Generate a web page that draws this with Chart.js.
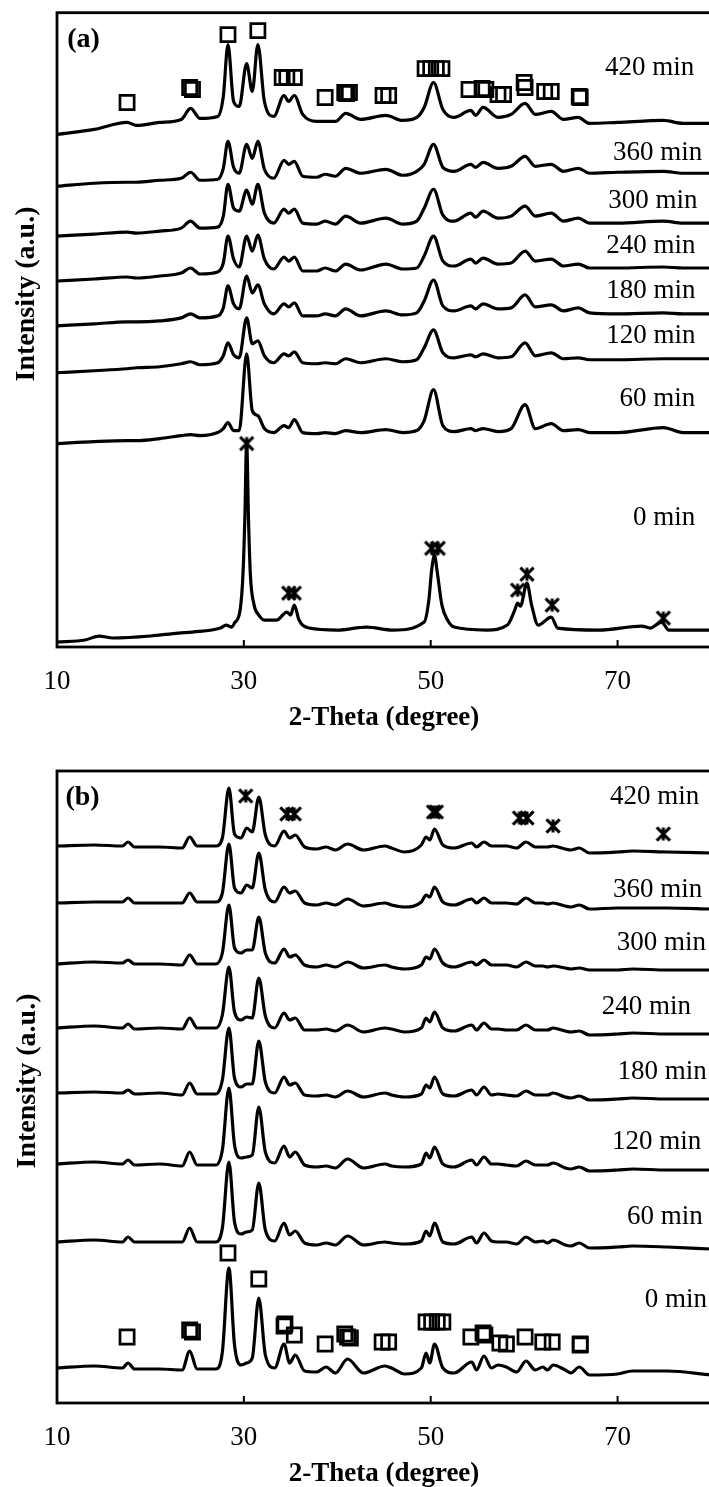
<!DOCTYPE html>
<html>
<head>
<meta charset="utf-8">
<script src="https://cdn.jsdelivr.net/npm/chart.js@4.4.1/dist/chart.umd.min.js"></script>
<style>
  html, body { margin: 0; padding: 0; background: #fff; overflow: hidden; }
  body { width: 709px; height: 1487px; position: relative; }
  canvas { position: absolute; left: 0; }
  #chartA { top: 0; }
  #chartB { top: 756px; }
</style>
</head>
<body>
<canvas id="chartA" width="760" height="745"></canvas>
<canvas id="chartB" width="760" height="745"></canvas>
<script>
// --- shared ---
const xTicks = [10, 30, 50, 70];
const timeLabels = ['420 min', '360 min', '300 min', '240 min', '180 min', '120 min', '60 min', '0 min'];

// --- panel (a) ---
const thetaA = [10, 14, 17.5, 18.5, 21, 23.3, 24.3, 25.3, 27.2, 27.8, 28.3, 28.9, 29.5, 30.3, 30.9, 31.5, 32.2, 33.2, 34.3, 34.8, 35.4, 36.3, 37.8, 38.7, 39.8, 40.9, 42.5, 45.2, 47, 48.5, 49.3, 50.3, 51.3, 52.5, 54.3, 54.8, 55.6, 57.2, 58.6, 60.1, 61.2, 62.9, 64.2, 65.8, 67, 70, 74.9, 77, 80];
const a420 = [514, 519, 526, 523, 526, 529, 540, 530, 532, 552, 604, 547, 542, 585, 557, 604, 547, 532, 553, 547, 553, 534, 527, 527, 527, 535, 529, 533, 528, 531, 541, 566, 539, 531, 538, 533, 541, 531, 534, 545, 534, 537, 529, 531, 525, 526, 528, 525, 525];
const a360 = [462, 465, 466, 466, 468, 470, 476, 468, 469, 480, 507, 481, 475, 504, 490, 507, 479, 470, 488, 484, 487, 472, 471, 474, 472, 480, 475, 479, 473, 477, 484, 504, 481, 477, 484, 481, 486, 480, 482, 492, 482, 484, 477, 480, 475, 476, 477, 475, 475];
const a300 = [412, 414, 416, 415, 417, 420, 427, 420, 421, 432, 464, 440, 437, 458, 444, 464, 435, 425, 439, 435, 439, 425, 424, 427, 424, 432, 425, 430, 424, 427, 440, 459, 433, 427, 435, 431, 437, 430, 432, 442, 432, 435, 427, 430, 425, 425, 427, 425, 425];
const a240 = [367, 369, 371, 370, 372, 375, 380, 374, 376, 385, 412, 389, 381, 412, 397, 413, 389, 379, 391, 387, 391, 377, 377, 380, 377, 384, 378, 384, 379, 380, 392, 412, 387, 382, 389, 385, 390, 384, 385, 397, 387, 389, 382, 384, 380, 380, 381, 380, 380];
const a180 = [322, 324, 326, 326, 327, 330, 334, 330, 332, 340, 362, 344, 339, 372, 355, 363, 344, 334, 344, 341, 345, 332, 332, 334, 332, 339, 332, 337, 333, 335, 347, 368, 342, 337, 342, 339, 344, 339, 340, 353, 341, 343, 337, 340, 335, 334, 335, 334, 334];
const a120 = [275, 277, 279, 280, 281, 284, 286, 283, 285, 292, 305, 293, 290, 330, 304, 307, 292, 285, 294, 292, 296, 285, 284, 285, 284, 289, 285, 289, 286, 288, 300, 318, 295, 290, 293, 291, 294, 290, 291, 305, 292, 295, 289, 290, 288, 288, 289, 289, 289];
const a60 = [204, 206, 207, 207, 209, 212, 213, 212, 215, 219, 225, 217, 217, 294, 237, 232, 219, 215, 222, 220, 228, 215, 214, 215, 214, 217, 215, 218, 215, 217, 227, 258, 222, 216, 219, 217, 219, 216, 219, 243, 219, 224, 217, 218, 215, 215, 220, 215, 215];
const thetaA0 = [10, 13, 14.5, 16, 20, 23, 24.5, 27.5, 28.1, 28.7, 29.0, 29.6, 29.9, 30.1, 30.3, 30.5, 30.7, 31.1, 31.6, 32.2, 33.5, 34.6, 35.0, 35.4, 35.9, 37, 40, 43.1, 46, 49.3, 49.8, 50.1, 50.4, 50.7, 51.2, 51.8, 52.5, 56, 58.2, 59.0, 59.3, 59.6, 60.3, 60.8, 61.5, 62.9, 63.6, 68, 72.6, 73.5, 74.7, 75.5, 80];
const a0 = [5, 7, 11, 9, 11, 14, 15, 19, 22, 20, 24, 37, 72, 127, 205, 127, 72, 42, 32, 27, 27, 35, 32, 42, 27, 19, 17, 20, 17, 25, 47, 77, 92, 75, 42, 27, 20, 17, 22, 37, 44, 41, 64, 42, 22, 30, 19, 17, 21, 19, 25, 17, 17];
const aSquareX = [17.5, 24.2, 24.5, 28.3, 31.5, 34.1, 34.6, 35.4, 38.7, 40.8, 41.0, 41.3, 44.9, 45.5, 49.4, 50.0, 50.6, 51.2, 54.1, 55.5, 55.9, 57.2, 57.8, 60.0, 60.1, 62.2, 62.9, 65.9, 66.0];
const aSquareY = [546, 561, 559, 614, 618, 571, 571, 571, 551, 556, 555, 556, 553, 553, 580, 580, 580, 580, 559, 560, 559, 554, 554, 566, 561, 557, 557, 552, 551];
const aStarX = [30.3, 34.8, 35.4, 50.1, 50.8, 59.3, 60.3, 63.0, 74.9];
const aStarY = [204, 54, 54, 99, 99, 57, 73, 42, 29];
const aLabelX = [68.65, 69.5, 69.0, 68.8, 68.8, 68.8, 70.2, 71.65];
const aLabelY = [581, 495, 447, 402, 357, 312, 249, 129];

// --- panel (b) ---
const thetaB = [10, 14, 17.0, 17.6, 18.3, 21, 23.4, 24.2, 25.0, 27.0, 27.7, 28.4, 29.0, 29.7, 30.3, 30.9, 31.6, 32.3, 33.3, 34.3, 34.9, 35.5, 36.5, 37.8, 38.8, 39.8, 41.1, 42.8, 45.1, 45.8, 47.2, 49.0, 49.5, 49.9, 50.4, 51.3, 52.5, 54.4, 54.9, 55.7, 56.5, 57.2, 58.1, 59.2, 60.2, 61.2, 62.0, 62.5, 63.1, 64.4, 65.0, 65.9, 67, 70, 71.6, 75.3, 80];
const b420 = [557, 558, 557, 561, 556, 556, 555, 566, 557, 557, 565, 615, 569, 565, 575, 571, 606, 568, 557, 572, 565, 568, 556, 554, 556, 553, 559, 553, 557, 555, 551, 558, 566, 563, 574, 558, 555, 560, 556, 561, 557, 557, 557, 555, 561, 556, 556, 556, 557, 554, 553, 555, 550, 551, 552, 551, 550];
const b360 = [500, 501, 501, 505, 500, 500, 500, 510, 501, 501, 510, 559, 515, 510, 518, 515, 550, 513, 501, 516, 510, 512, 500, 498, 500, 498, 504, 497, 500, 498, 496, 501, 508, 506, 516, 501, 498, 504, 500, 505, 500, 500, 500, 499, 505, 500, 500, 499, 500, 497, 496, 498, 494, 495, 495, 495, 494];
const b300 = [439, 441, 440, 443, 439, 439, 438, 448, 439, 439, 450, 498, 455, 450, 453, 453, 486, 450, 440, 454, 446, 448, 438, 436, 438, 436, 441, 435, 438, 436, 434, 438, 446, 444, 454, 440, 436, 441, 438, 443, 438, 438, 438, 436, 441, 437, 437, 436, 437, 435, 434, 435, 433, 433, 434, 433, 433];
const b240 = [375, 377, 375, 379, 374, 375, 374, 385, 375, 375, 388, 436, 391, 383, 386, 385, 425, 387, 375, 390, 383, 385, 373, 373, 374, 372, 378, 371, 375, 374, 371, 375, 385, 381, 391, 375, 372, 378, 373, 380, 374, 374, 373, 373, 378, 373, 373, 373, 375, 372, 371, 372, 368, 369, 370, 369, 369];
const b180 = [310, 311, 310, 313, 309, 310, 308, 320, 309, 309, 323, 375, 325, 316, 319, 319, 362, 321, 310, 326, 318, 320, 308, 307, 308, 306, 312, 306, 310, 308, 306, 309, 318, 315, 326, 309, 307, 313, 308, 316, 308, 309, 308, 307, 312, 308, 308, 308, 310, 306, 305, 307, 303, 304, 305, 304, 304];
const b120 = [239, 241, 239, 243, 238, 239, 237, 251, 238, 238, 253, 315, 258, 245, 246, 248, 296, 251, 240, 257, 246, 251, 238, 236, 237, 235, 244, 235, 239, 237, 236, 239, 250, 245, 256, 239, 236, 243, 238, 246, 239, 239, 238, 237, 242, 238, 238, 238, 240, 235, 234, 236, 232, 233, 234, 233, 233];
const b60 = [161, 163, 161, 166, 161, 161, 161, 175, 161, 161, 175, 241, 181, 169, 171, 173, 220, 173, 162, 180, 168, 172, 160, 158, 160, 158, 167, 158, 161, 160, 159, 162, 172, 167, 180, 161, 159, 166, 160, 170, 162, 161, 161, 159, 166, 161, 162, 160, 163, 158, 157, 160, 155, 156, 157, 156, 154];
const b0 = [35, 37, 35, 40, 34, 34, 33, 52, 34, 34, 51, 135, 58, 38, 40, 45, 105, 48, 35, 59, 40, 48, 32, 31, 36, 30, 44, 30, 37, 35, 29, 35, 50, 40, 59, 35, 30, 41, 33, 47, 35, 38, 36, 31, 42, 33, 36, 33, 38, 33, 30, 36, 28, 29, 32, 32, 28];
const bSquareX = [17.5, 24.2, 24.5, 28.3, 31.6, 34.3, 34.4, 35.4, 38.7, 40.8, 41.1, 41.4, 44.8, 45.5, 49.5, 50.1, 50.7, 51.3, 54.3, 55.6, 55.8, 57.4, 58.1, 60.1, 62.0, 63.0, 66.0, 66.0];
const bSquareY = [66, 73, 71, 150, 124, 77, 79, 68, 59, 69, 66, 65, 61, 61, 81, 81, 81, 81, 66, 70, 68, 60, 59, 66, 61, 61, 59, 58];
const bStarX = [30.2, 34.6, 35.4, 50.3, 50.6, 59.5, 60.3, 63.1, 74.9];
const bStarY = [607, 589, 589, 591, 591, 585, 585, 577, 569];
const bLabelX = [69.2, 69.5, 69.9, 68.3, 70.0, 69.4, 71.0, 72.9];
const bLabelY = [606, 513, 460, 396, 331, 261, 186, 103];

const SERIF = '"Liberation Serif", "Times New Roman", serif';

// asterisk marker (X with a vertical bar), like the spreadsheet "star" marker
function makeStar(size, lw) {
    const c = document.createElement('canvas');
    c.width = c.height = size;
    const g = c.getContext('2d');
    g.strokeStyle = '#000';
    g.lineWidth = lw;
    const m = lw * 0.8, s = size - lw * 0.8;
    g.beginPath();
    g.moveTo(m, m); g.lineTo(s, s);
    g.moveTo(s, m); g.lineTo(m, s);
    g.moveTo(size / 2, m); g.lineTo(size / 2, s);
    g.stroke();
    return c;
}
const star = makeStar(18, 3);

function trace(theta, vals) {
    return {
        data: theta.map((t, i) => ({ x: t, y: vals[i] })),
        borderColor: '#000', borderWidth: 3.2,
        pointRadius: 0, fill: false,
        cubicInterpolationMode: 'monotone'
    };
}

function marks(xs, ys, style, r) {
    return {
        data: xs.map((v, i) => ({ x: v, y: ys[i] })),
        showLine: false, pointStyle: style, pointRadius: r,
        borderColor: '#000', borderWidth: 2.7,
        backgroundColor: 'rgba(0,0,0,0)'
    };
}

// frame, inward ticks, curve labels, panel tag and y title
const decor = {
    id: 'decor',
    afterDraw(chart, args, o) {
        const { ctx, chartArea: a, scales: { x, y } } = chart;
        ctx.save();
        ctx.strokeStyle = '#000';
        ctx.lineWidth = 2.8;
        ctx.strokeRect(a.left, a.top, a.right - a.left, a.bottom - a.top);
        ctx.lineWidth = 2;
        xTicks.forEach(v => {
            const px = x.getPixelForValue(v);
            ctx.beginPath();
            ctx.moveTo(px, a.bottom);
            ctx.lineTo(px, a.bottom - 7);
            ctx.stroke();
        });

        ctx.fillStyle = '#000';
        ctx.textBaseline = 'middle';
        ctx.textAlign = 'left';
        ctx.font = '27px ' + SERIF;
        o.labelX.forEach((lx, i) => {
            ctx.fillText(timeLabels[i], x.getPixelForValue(lx), y.getPixelForValue(o.labelY[i]));
        });
        ctx.font = 'bold 28px ' + SERIF;
        ctx.fillText(o.tag, x.getPixelForValue(o.tagX), y.getPixelForValue(o.tagY));

        ctx.translate(o.titleX, o.titleY);
        ctx.rotate(-Math.PI / 2);
        ctx.textAlign = 'center';
        ctx.fillText('Intensity (a.u.)', 0, 0);
        ctx.restore();
    }
};

function makePanel(canvasId, p) {
    const ctx = document.getElementById(canvasId).getContext('2d');
    return new Chart(ctx, {
        type: 'line',
        data: { datasets: p.datasets },
        plugins: [decor],
        options: {
            responsive: false,
            animation: false,
            layout: { padding: { left: 57, right: 49, top: p.top, bottom: 0 } },
            plugins: {
                legend: { display: false },
                tooltip: { enabled: false },
                decor: p.decor
            },
            scales: {
                x: {
                    type: 'linear', min: 10, max: 80,
                    afterBuildTicks: s => { s.ticks = xTicks.map(v => ({ value: v })); },
                    afterFit: s => { s.height = 98; },
                    grid: { display: false, drawTicks: false },
                    border: { display: false },
                    ticks: { color: '#000', font: { family: SERIF, size: 27 }, padding: 19, maxRotation: 0, autoSkip: false },
                    title: {
                        display: true, text: '2-Theta (degree)', color: '#000',
                        font: { family: SERIF, size: 27, weight: 'bold' },
                        padding: { top: 0, bottom: 11 }
                    }
                },
                y: { display: false, min: 0, max: p.yMax }
            }
        }
    });
}

makePanel('chartA', {
    top: 11, yMax: 636,
    datasets: [
        marks(aSquareX, aSquareY, 'rect', 10),
        marks(aStarX, aStarY, star, 8),
        trace(thetaA, a420), trace(thetaA, a360), trace(thetaA, a300), trace(thetaA, a240),
        trace(thetaA, a180), trace(thetaA, a120), trace(thetaA, a60), trace(thetaA0, a0)
    ],
    decor: { labelX: aLabelX, labelY: aLabelY, tag: '(a)', tagX: 11.1, tagY: 609, titleX: 27, titleY: 294 }
});

makePanel('chartB', {
    top: 15, yMax: 632,
    datasets: [
        marks(bSquareX, bSquareY, 'rect', 10),
        marks(bStarX, bStarY, star, 8),
        trace(thetaB, b420), trace(thetaB, b360), trace(thetaB, b300), trace(thetaB, b240),
        trace(thetaB, b180), trace(thetaB, b120), trace(thetaB, b60), trace(thetaB, b0)
    ],
    decor: { labelX: bLabelX, labelY: bLabelY, tag: '(b)', tagX: 10.9, tagY: 605, titleX: 28, titleY: 325 }
});
</script>
</body>
</html>
